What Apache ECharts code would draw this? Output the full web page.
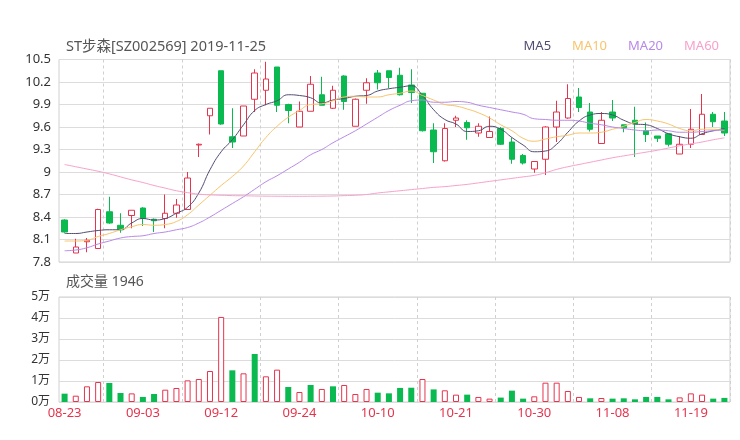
<!DOCTYPE html>
<html>
<head>
<meta charset="utf-8">
<script src="https://cdn.jsdelivr.net/npm/echarts@6/dist/echarts.min.js"></script>
<style>html,body{margin:0;padding:0;background:#fff;}#c{width:740px;height:440px;}</style>
</head>
<body>
<div id="c"></div>
<script>
var dates = ["08-23","08-26","08-27","08-28","08-29","08-30","09-02","09-03","09-04","09-05","09-06","09-09","09-10","09-11","09-12","09-16","09-17","09-18","09-19","09-20","09-23","09-24","09-25","09-26","09-27","09-30","10-08","10-09","10-10","10-11","10-14","10-15","10-16","10-17","10-18","10-21","10-22","10-23","10-24","10-25","10-28","10-29","10-30","10-31","11-01","11-04","11-05","11-06","11-07","11-08","11-11","11-12","11-13","11-14","11-15","11-18","11-19","11-20","11-21","11-22"];
// [open, close, low, high]
var ohlc = [
[8.36,8.20,8.19,8.37],[7.92,8.00,7.92,8.11],[8.07,8.09,7.93,8.12],[7.98,8.50,7.98,8.51],[8.47,8.32,8.31,8.67],
[8.29,8.23,8.19,8.45],[8.42,8.49,8.25,8.49],[8.52,8.38,8.28,8.53],[8.37,8.35,8.20,8.38],[8.38,8.45,8.25,8.70],
[8.45,8.56,8.39,8.64],[8.50,8.92,8.50,9.00],[9.36,9.37,9.20,9.38],[9.75,9.85,9.50,9.85],[10.35,9.64,9.63,10.35],
[9.47,9.40,9.32,9.85],[9.48,9.88,9.48,9.88],[9.97,10.32,9.80,10.37],[10.09,10.24,9.89,10.47],[10.40,9.89,9.80,10.40],
[9.90,9.82,9.65,9.91],[9.60,9.81,9.60,9.94],[9.81,10.17,9.81,10.28],[10.03,9.89,9.89,10.27],[9.85,10.09,9.84,10.15],
[10.28,9.94,9.83,10.29],[9.61,9.97,9.61,9.98],[10.09,10.19,9.91,10.25],[10.32,10.19,10.10,10.36],[10.35,10.26,10.12,10.35],
[10.29,10.03,10.02,10.39],[10.16,10.06,9.92,10.37],[10.05,9.55,9.54,10.05],[9.56,9.27,9.12,9.65],[9.15,9.58,9.14,9.65],
[9.69,9.72,9.60,9.75],[9.66,9.59,9.43,9.69],[9.52,9.61,9.47,9.65],[9.46,9.54,9.46,9.74],[9.58,9.37,9.36,9.60],
[9.40,9.17,9.11,9.46],[9.22,9.12,9.10,9.24],[9.04,9.14,8.99,9.14],[9.17,9.60,8.96,9.61],[9.60,9.80,9.40,9.95],
[9.72,9.98,9.71,10.17],[10.00,9.86,9.80,10.12],[9.80,9.57,9.54,9.92],[9.38,9.69,9.38,9.80],[9.80,9.72,9.68,9.96],
[9.63,9.59,9.53,9.63],[9.69,9.64,9.20,9.87],[9.55,9.50,9.40,9.66],[9.48,9.45,9.40,9.48],[9.51,9.37,9.34,9.51],
[9.24,9.37,9.24,9.48],[9.37,9.57,9.32,9.84],[9.50,9.77,9.50,10.04],[9.77,9.67,9.60,9.80],[9.68,9.52,9.48,9.80]
];
var volumes = [3970,3000,7460,9520,9050,4300,4100,2400,3800,5870,6670,10300,10950,14760,40500,15080,13650,22860,12220,15400,7140,4760,8100,6200,7460,8100,3800,6200,4440,4130,6700,6800,10950,6000,5560,3500,3500,2400,1600,2100,5400,1600,2700,9200,9200,5240,2400,1750,1900,1600,1750,1270,2400,2400,1270,2200,4100,3500,1600,1946];
var volumeUp = [0,1,1,1,0,0,1,0,0,1,1,1,1,1,1,0,1,0,1,1,0,1,0,1,0,1,1,1,0,0,0,0,1,0,1,1,0,1,1,0,0,0,1,1,1,1,1,0,1,0,0,0,0,0,0,1,1,1,0,0];
var ma5 = [8.18,8.18,8.20,8.22,8.23,8.23,8.32,8.38,8.36,8.38,8.45,8.53,8.72,9.03,9.27,9.43,9.63,9.82,9.90,9.95,10.03,10.02,9.99,9.92,9.96,9.98,10.01,10.02,10.08,10.11,10.13,10.15,10.02,9.83,9.70,9.64,9.54,9.55,9.61,9.57,9.46,9.36,9.27,9.28,9.37,9.53,9.68,9.76,9.78,9.76,9.69,9.64,9.63,9.58,9.51,9.47,9.45,9.51,9.55,9.58];
var ma10 = [8.08,8.08,8.09,8.14,8.18,8.23,8.27,8.30,8.29,8.30,8.34,8.43,8.56,8.69,8.82,8.94,9.08,9.27,9.46,9.61,9.73,9.82,9.90,9.91,9.95,10.00,10.01,10.00,10.00,10.03,10.05,10.08,10.02,9.96,9.90,9.88,9.84,9.79,9.72,9.63,9.55,9.45,9.41,9.44,9.47,9.49,9.52,9.52,9.53,9.57,9.61,9.66,9.70,9.68,9.64,9.58,9.55,9.57,9.57,9.55];
var ma20 = [7.95,7.96,7.99,8.04,8.08,8.12,8.14,8.15,8.18,8.20,8.23,8.26,8.32,8.40,8.49,8.58,8.67,8.77,8.87,8.95,9.04,9.13,9.23,9.30,9.39,9.47,9.55,9.64,9.73,9.82,9.89,9.95,9.96,9.93,9.93,9.94,9.93,9.89,9.86,9.83,9.80,9.77,9.71,9.70,9.69,9.69,9.68,9.65,9.63,9.60,9.58,9.56,9.55,9.56,9.55,9.53,9.53,9.54,9.55,9.56];
var ma60 = [9.10,9.07,9.04,9.01,8.975,8.935,8.895,8.86,8.82,8.785,8.75,8.725,8.705,8.695,8.69,8.685,8.683,8.68,8.678,8.677,8.676,8.676,8.677,8.678,8.68,8.685,8.69,8.70,8.72,8.735,8.75,8.765,8.78,8.795,8.805,8.82,8.835,8.855,8.875,8.895,8.915,8.935,8.955,8.99,9.035,9.07,9.10,9.13,9.16,9.19,9.215,9.24,9.265,9.29,9.32,9.35,9.375,9.40,9.43,9.455];
var priceTicks = {min: 7.8, max: 10.5, interval: 0.3};
var volTicks = {min: 0, max: 50000, interval: 10000};
var titleText = "ST步森[SZ002569] 2019-11-25";
var volTitle = "成交量 1946";

var RED = "#e5344d", GREEN = "#0ab950";
var C5 = "#514d72", C10 = "#f8c46c", C20 = "#b889e8", C60 = "#f7a1cc";
var FONT = "'Noto Sans', 'Noto Sans CJK SC', sans-serif";

var chart = echarts.init(document.getElementById('c'), null, {renderer: 'canvas'});
function maSeries(name, data, color) {
  return {name: name, type: 'line', data: data, xAxisIndex: 0, yAxisIndex: 0,
    smooth: true, symbol: 'none', lineStyle: {width: 1, color: color}, itemStyle: {color: color}, z: 3};
}
var splitX = {show: true, interval: function (i) { return i % 7 === 4; }, lineStyle: {color: '#d0d0d0', type: [3, 3], width: 1}};
chart.setOption({
  animation: false,
  backgroundColor: '#fff',
  textStyle: {fontFamily: FONT},
  title: [
    {text: titleText, left: 66, top: 39, padding: 0, textStyle: {fontSize: 14.5, fontWeight: 'normal', color: '#555', fontFamily: FONT, lineHeight: 16}},
    {text: volTitle, left: 66, top: 274, padding: 0, textStyle: {fontSize: 14, fontWeight: 'normal', color: '#555', fontFamily: FONT, lineHeight: 16}}
  ],
  legend: {
    right: 21, top: 39, padding: 0, itemGap: 16, itemWidth: 0, itemHeight: 14, icon: 'none',
    textStyle: {fontSize: 13, fontFamily: FONT},
    data: [
      {name: 'MA5', textStyle: {color: C5}},
      {name: 'MA10', textStyle: {color: C10}},
      {name: 'MA20', textStyle: {color: C20}},
      {name: 'MA60', textStyle: {color: C60}}
    ]
  },
  grid: [
    {left: 59, right: 10, top: 59.5, height: 202.5, show: true, borderColor: '#d0d0d0', borderWidth: 1, backgroundColor: 'transparent'},
    {left: 59, right: 10, top: 297, height: 105, show: true, borderColor: '#d0d0d0', borderWidth: 1, backgroundColor: 'transparent'}
  ],
  xAxis: [
    {type: 'category', gridIndex: 0, data: dates, boundaryGap: true,
      axisLine: {show: false}, axisTick: {show: false}, axisLabel: {show: false}, splitLine: splitX},
    {type: 'category', gridIndex: 1, data: dates, boundaryGap: true,
      axisLine: {show: false}, axisTick: {show: false},
      axisLabel: {show: true, interval: 6, color: RED, fontSize: 13, margin: 5, fontFamily: FONT},
      splitLine: splitX}
  ],
  yAxis: [
    {type: 'value', gridIndex: 0, min: priceTicks.min, max: priceTicks.max, interval: priceTicks.interval,
      axisLine: {show: false}, axisTick: {show: false},
      axisLabel: {color: '#333', fontSize: 13, margin: 8, fontFamily: FONT,
        formatter: function (v) { return String(Math.round(v * 10) / 10); }},
      splitLine: {show: true, lineStyle: {color: '#dcdcdc', width: 1}}},
    {type: 'value', gridIndex: 1, min: volTicks.min, max: volTicks.max, interval: volTicks.interval,
      axisLine: {show: false}, axisTick: {show: false},
      axisLabel: {color: '#333', fontSize: 12, margin: 9, fontFamily: FONT,
        formatter: function (v) { return Math.round(v / 10000) + '万'; }},
      splitLine: {show: true, lineStyle: {color: '#dcdcdc', width: 1}}}
  ],
  series: [
    {name: 'K', type: 'candlestick', data: ohlc, xAxisIndex: 0, yAxisIndex: 0, barWidth: 6,
      itemStyle: {color: '#fff', color0: GREEN, borderColor: RED, borderColor0: GREEN, borderWidth: 1}, z: 2},
    maSeries('MA5', ma5, C5),
    maSeries('MA10', ma10, C10),
    maSeries('MA20', ma20, C20),
    maSeries('MA60', ma60, C60),
    {name: 'VOL', type: 'bar', xAxisIndex: 1, yAxisIndex: 1, barWidth: 6,
      data: volumes.map(function (v, i) {
        return {value: v, itemStyle: volumeUp[i] ? {color: '#fff', borderColor: RED, borderWidth: 1} : {color: GREEN}};
      })}
  ]
});
</script>
</body>
</html>
